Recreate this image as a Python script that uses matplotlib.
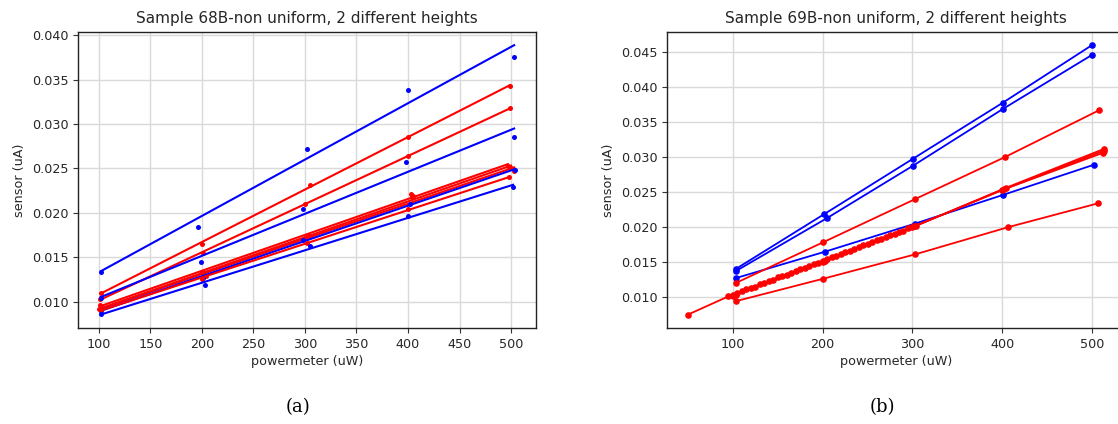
import numpy as np
import matplotlib
matplotlib.use("Agg")
import matplotlib.pyplot as plt

# ---- Sample 68B: measured points (a linear fit is drawn through each set)
s68_x = [
    [102, 196, 302, 400, 503],
    [102, 200, 305, 400, 499],
    [101, 201, 300, 400, 499],
    [102, 199, 298, 398, 503],
    [101, 200, 303, 403, 497],
    [103, 202, 305, 405, 500],
    [100, 204, 300, 404, 503],
    [102, 201, 298, 402, 504],
    [102, 200, 302, 400, 498],
    [102, 203, 305, 400, 502],
]
s68_y = [
    [0.0133, 0.0184, 0.0272, 0.0338, 0.0375],
    [0.0110, 0.0165, 0.0231, 0.0286, 0.0343],
    [0.0103, 0.0155, 0.0210, 0.0264, 0.0318],
    [0.0104, 0.0145, 0.0204, 0.0257, 0.0285],
    [0.0096, 0.0133, 0.0175, 0.0221, 0.0253],
    [0.0094, 0.0131, 0.0174, 0.0219, 0.0251],
    [0.0092, 0.0129, 0.0172, 0.0218, 0.0247],
    [0.0090, 0.0127, 0.0170, 0.0210, 0.0248],
    [0.0091, 0.0126, 0.0166, 0.0204, 0.0240],
    [0.0086, 0.0119, 0.0163, 0.0197, 0.0229],
]
s68_colors = ["b", "r", "r", "b", "r", "r", "r", "b", "r", "b"]

# ---- Sample 69B: measured points joined in order
s69_x = [
    [103, 201, 301, 401, 500],
    [103, 205, 301, 401, 500],
    [103, 203, 303, 401, 502],
    [103, 200, 303, 403, 508],
    [103, 200, 303, 407, 507],
    [100, 200, 302, 402, 512],
    [103, 202, 304, 404, 514],
    [50, 95, 100, 105, 110, 115, 120, 125, 130, 135, 140, 145, 150, 155,
     160, 165, 170, 175, 180, 185, 190, 195, 200, 205, 210, 215, 220, 225,
     230, 235, 240, 245, 250, 255, 260, 265, 270, 275, 280, 285, 290, 295,
     300, 400, 513],
]
s69_y = [
    [0.0140, 0.0218, 0.0298, 0.0378, 0.0460],
    [0.0137, 0.0213, 0.0288, 0.0369, 0.0446],
    [0.0127, 0.0165, 0.0205, 0.0246, 0.0289],
    [0.0120, 0.0178, 0.0240, 0.0300, 0.0367],
    [0.0094, 0.0126, 0.0161, 0.0200, 0.0234],
    [0.0102, 0.0150, 0.0201, 0.0254, 0.0306],
    [0.0103, 0.0152, 0.0202, 0.0256, 0.0312],
    [0.0075, 0.0101, 0.0103, 0.0106, 0.0108, 0.0111, 0.0113, 0.0115, 0.0118,
     0.0120, 0.0123, 0.0125, 0.0128, 0.0130, 0.0132, 0.0135, 0.0137, 0.0140,
     0.0142, 0.0145, 0.0147, 0.0149, 0.0152, 0.0154, 0.0157, 0.0159, 0.0161,
     0.0164, 0.0166, 0.0169, 0.0171, 0.0174, 0.0176, 0.0178, 0.0181, 0.0183,
     0.0186, 0.0188, 0.0190, 0.0193, 0.0195, 0.0198, 0.0200, 0.0253, 0.0309],
]
s69_colors = ["b", "b", "b", "r", "r", "r", "r", "r"]

titles = ["Sample 68B-non uniform, 2 different heights",
          "Sample 69B-non uniform, 2 different heights"]
captions = ["(a)", "(b)"]

W, H = 1118, 424
fig = plt.figure(figsize=(W / 100, H / 100), dpi=100)
axL = fig.add_axes([78 / W, (H - 328) / H, 458 / W, 296.3 / H])
axR = fig.add_axes([667.3 / W, (H - 328) / H, 458 / W, 296.3 / H])

for ax in (axL, axR):
    ax.grid(True, color="#d9d9d9", linewidth=1.0)
    ax.set_axisbelow(True)
    ax.tick_params(labelsize=9.2, length=3.5, width=0.8, color="#333333",
                   labelcolor="#262626")
    for sp in ax.spines.values():
        sp.set_linewidth(1.0)
        sp.set_color("#222222")

# left: scatter + least squares line
for xs, ys, c in zip(s68_x, s68_y, s68_colors):
    xs = np.asarray(xs, float)
    ys = np.asarray(ys, float)
    k, b = np.polyfit(xs, ys, 1)
    xl = np.array([xs.min(), xs.max()])
    axL.plot(xl, k * xl + b, color=c, linewidth=1.5)
    axL.plot(xs, ys, "o", color=c, markersize=3.6, markeredgewidth=0)

# right: joined points
for xs, ys, c in zip(s69_x, s69_y, s69_colors):
    axR.plot(xs, ys, ".-", color=c, linewidth=1.3, markersize=7.5)

axL.set_xticks(np.arange(100, 501, 50))
axL.set_yticks(np.arange(0.010, 0.0401, 0.005))
axR.set_xticks(np.arange(100, 501, 100))
axR.set_yticks(np.arange(0.010, 0.0451, 0.005))
axL.yaxis.set_major_formatter(matplotlib.ticker.FormatStrFormatter("%.3f"))
axR.yaxis.set_major_formatter(matplotlib.ticker.FormatStrFormatter("%.3f"))

for ax, t in zip((axL, axR), titles):
    ax.set_title(t, fontsize=11, color="#262626", pad=6)
    ax.set_xlabel("powermeter (uW)", fontsize=9.2, color="#262626", labelpad=3)
    ax.set_ylabel("sensor (uA)", fontsize=9.2, color="#262626", labelpad=4)

fig.text(298 / W, 1 - 407 / H, captions[0], ha="center", va="center",
         fontsize=13, family="DejaVu Serif")
fig.text(882 / W, 1 - 407 / H, captions[1], ha="center", va="center",
         fontsize=13, family="DejaVu Serif")

fig.savefig("out.png", dpi=100, facecolor="white")
